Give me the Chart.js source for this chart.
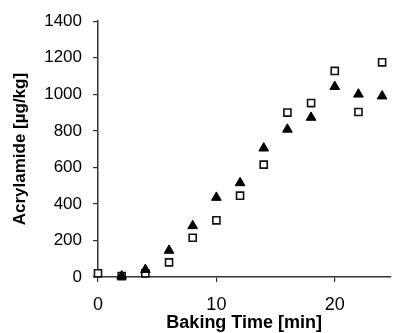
<!DOCTYPE html>
<html>
<head>
<meta charset="utf-8">
<script src="https://cdn.jsdelivr.net/npm/chart.js@4/dist/chart.umd.min.js"></script>
<style>
  html, body { margin: 0; padding: 0; background: #fff; }
  canvas { display: block; }
</style>
</head>
<body>
<canvas id="acrylChart" width="397" height="333"></canvas>
<script>
// baking time [min]
const squareTimes = [0, 2, 4, 6, 8, 10, 12, 14, 16, 18, 20, 22, 24];
const squareValues = [20, 5, 20, 80, 215, 310, 445, 615, 900, 952, 1128, 903, 1175];
const triangleTimes = [2, 4, 6, 8, 10, 12, 14, 16, 18, 20, 22, 24];
const triangleValues = [5, 40, 145, 280, 435, 515, 705, 808, 873, 1042, 1000, 990];
const xTickValues = [0, 10, 20];

const toPoints = (xs, ys) => xs.map((x, i) => ({ x: x, y: ys[i] }));

const fontFamily = "'Liberation Sans', Arial, sans-serif";

document.addEventListener("DOMContentLoaded", () => {
  const ctx = document.getElementById('acrylChart').getContext('2d');

  new Chart(ctx, {
    type: 'scatter',
    data: {
      datasets: [
        {
          data: toPoints(triangleTimes, triangleValues),
          pointStyle: 'triangle',
          pointRadius: 5.6,
          backgroundColor: '#000',
          borderColor: '#000',
          borderWidth: 1,
          clip: false
        },
        {
          data: toPoints(squareTimes, squareValues),
          pointStyle: 'rect',
          pointRadius: 5,
          backgroundColor: '#fff',
          borderColor: '#111',
          borderWidth: 1.6,
          clip: false
        }
      ]
    },
    options: {
      responsive: false,
      animation: false,
      devicePixelRatio: 1,
      layout: { padding: { top: 20, left: 10, right: 0, bottom: 0 } },
      plugins: { legend: { display: false }, tooltip: { enabled: false } },
      scales: {
        x: {
          type: 'linear',
          min: 0,
          max: 24.7,
          afterBuildTicks: scale => {
            scale.ticks = xTickValues.map(v => ({ value: v }));
          },
          afterFit: scale => { scale.height = 56; },
          grid: { drawOnChartArea: false, tickLength: 5, color: '#333', lineWidth: 1.2 },
          border: { color: '#333', width: 1.5 },
          ticks: {
            color: '#000',
            padding: 12,
            maxRotation: 0,
            callback: v => String(v),
            font: { family: fontFamily, size: 18 }
          },
          title: {
            display: true,
            text: 'Baking Time [min]',
            color: '#000',
            padding: { top: 0, bottom: 1 },
            font: { family: fontFamily, size: 18, weight: 'bold', lineHeight: 1 }
          }
        },
        y: {
          min: 0,
          max: 1400,
          afterFit: scale => { scale.width = 88; },
          grid: { drawOnChartArea: false, tickLength: 5, color: '#333', lineWidth: 1.2 },
          border: { color: '#333', width: 1.5 },
          ticks: {
            stepSize: 200,
            color: '#000',
            padding: 11,
            callback: v => String(v),
            font: { family: fontFamily, size: 17 }
          },
          title: {
            display: true,
            text: 'Acrylamide [µg/kg]',
            color: '#000',
            padding: { top: 0, bottom: 0 },
            font: { family: fontFamily, size: 17, weight: 'bold', lineHeight: 1.2 }
          }
        }
      }
    }
  });
});
</script>
</body>
</html>
